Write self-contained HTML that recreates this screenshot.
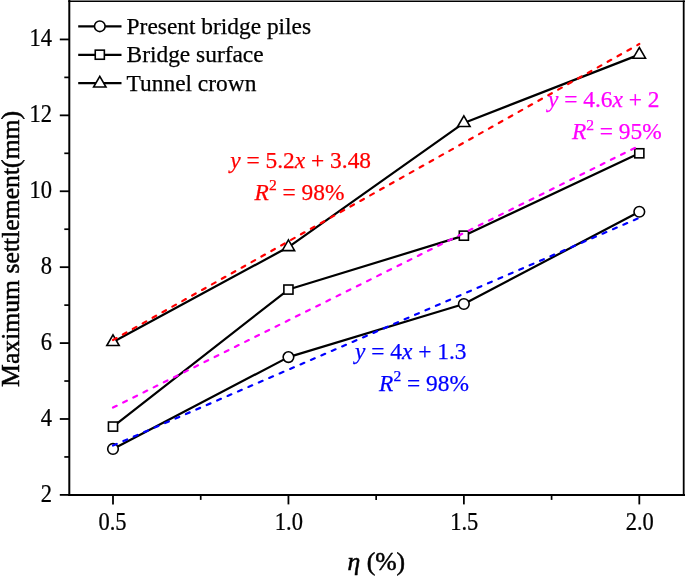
<!DOCTYPE html>
<html><head><meta charset="utf-8"><title>Maximum settlement vs eta</title>
<style>
html,body{margin:0;padding:0;background:#fff;}
body{width:685px;height:576px;overflow:hidden;}
svg{display:block;will-change:transform;}
text{font-family:"Liberation Serif",serif;font-size:23.4px;fill:#000;stroke:#000;stroke-width:0.25px;}
.t{font-size:25.7px;stroke-width:0.5px;}
.k{font-size:24.2px;}
.s{font-size:15.6px;}
.i{font-style:italic;}
</style></head><body>
<svg width="685" height="576" viewBox="0 0 685 576">
<rect width="685" height="576" fill="#fff"/>
<g stroke="#000" stroke-width="2" fill="none" stroke-linecap="butt">
<line x1="69.3" y1="0" x2="69.3" y2="495.9"/>
<line x1="68.3" y1="494.9" x2="685" y2="494.9"/>
<line x1="68.3" y1="1.22" x2="685" y2="1.22" stroke-width="1.65"/>
<line x1="683.7" y1="0.4" x2="683.7" y2="495.9" stroke-width="1.8"/>
<line x1="59.80" y1="494.90" x2="69.30" y2="494.90" stroke-width="1.8"/>
<line x1="64.30" y1="456.94" x2="69.30" y2="456.94" stroke-width="1.7"/>
<line x1="59.80" y1="418.99" x2="69.30" y2="418.99" stroke-width="1.8"/>
<line x1="64.30" y1="381.03" x2="69.30" y2="381.03" stroke-width="1.7"/>
<line x1="59.80" y1="343.08" x2="69.30" y2="343.08" stroke-width="1.8"/>
<line x1="64.30" y1="305.12" x2="69.30" y2="305.12" stroke-width="1.7"/>
<line x1="59.80" y1="267.17" x2="69.30" y2="267.17" stroke-width="1.8"/>
<line x1="64.30" y1="229.21" x2="69.30" y2="229.21" stroke-width="1.7"/>
<line x1="59.80" y1="191.26" x2="69.30" y2="191.26" stroke-width="1.8"/>
<line x1="64.30" y1="153.31" x2="69.30" y2="153.31" stroke-width="1.7"/>
<line x1="59.80" y1="115.35" x2="69.30" y2="115.35" stroke-width="1.8"/>
<line x1="64.30" y1="77.39" x2="69.30" y2="77.39" stroke-width="1.7"/>
<line x1="59.80" y1="39.44" x2="69.30" y2="39.44" stroke-width="1.8"/>
<line x1="113.00" y1="494.90" x2="113.00" y2="504.40" stroke-width="1.8"/>
<line x1="200.72" y1="494.90" x2="200.72" y2="499.90" stroke-width="1.7"/>
<line x1="288.44" y1="494.90" x2="288.44" y2="504.40" stroke-width="1.8"/>
<line x1="376.15" y1="494.90" x2="376.15" y2="499.90" stroke-width="1.7"/>
<line x1="463.87" y1="494.90" x2="463.87" y2="504.40" stroke-width="1.8"/>
<line x1="551.59" y1="494.90" x2="551.59" y2="499.90" stroke-width="1.7"/>
<line x1="639.31" y1="494.90" x2="639.31" y2="504.40" stroke-width="1.8"/>
</g>
<g stroke="#000" stroke-width="2.2" fill="none" stroke-linejoin="round">
<polyline points="113.00,448.97 288.44,357.12 463.87,303.99 639.31,211.76"/>
<polyline points="113.00,426.58 288.44,289.56 463.87,235.67 639.31,153.31"/>
<polyline points="113.00,341.94 288.44,247.05 463.87,122.94 639.31,54.62"/>
<line x1="78.2" y1="26.4" x2="121.5" y2="26.4"/>
<line x1="78.2" y1="54.8" x2="121.5" y2="54.8"/>
<line x1="78.2" y1="83.2" x2="121.5" y2="83.2"/>
</g>
<g stroke="#000" stroke-width="1.6" fill="#fff" stroke-linejoin="miter">
<circle cx="113.00" cy="448.97" r="5.3"/>
<circle cx="288.44" cy="357.12" r="5.3"/>
<circle cx="463.87" cy="303.99" r="5.3"/>
<circle cx="639.31" cy="211.76" r="5.3"/>
<rect x="108.45" y="422.03" width="9.1" height="9.1"/>
<rect x="283.88" y="285.01" width="9.1" height="9.1"/>
<rect x="459.32" y="231.12" width="9.1" height="9.1"/>
<rect x="634.76" y="148.75" width="9.1" height="9.1"/>
<polygon points="113.00,334.81 119.20,345.51 106.80,345.51"/>
<polygon points="288.44,239.92 294.63,250.62 282.24,250.62"/>
<polygon points="463.87,115.81 470.07,126.51 457.67,126.51"/>
<polygon points="639.31,47.49 645.51,58.19 633.11,58.19"/>
<circle cx="99.80" cy="26.30" r="5.3"/>
<rect x="95.25" y="50.15" width="9.1" height="9.1"/>
<polygon points="99.80,76.37 106.00,87.07 93.60,87.07"/>
</g>
<g stroke-width="2.2" fill="none" stroke-linecap="round" stroke-dasharray="4.1 7.25">
<line stroke="#ff0000" x1="113.00" y1="340.04" x2="639.31" y2="43.99"/>
<line stroke="#ff00ff" x1="113.00" y1="407.60" x2="639.31" y2="145.71"/>
<line stroke="#0000ff" x1="113.00" y1="445.56" x2="639.31" y2="217.83"/>
</g>
<text class="k" transform="translate(52.0,501.90) scale(0.93,1)" text-anchor="end">2</text>
<text class="k" transform="translate(52.0,425.99) scale(0.93,1)" text-anchor="end">4</text>
<text class="k" transform="translate(52.0,350.08) scale(0.93,1)" text-anchor="end">6</text>
<text class="k" transform="translate(52.0,274.17) scale(0.93,1)" text-anchor="end">8</text>
<text class="k" transform="translate(52.0,198.26) scale(0.93,1)" text-anchor="end">10</text>
<text class="k" transform="translate(52.0,122.35) scale(0.93,1)" text-anchor="end">12</text>
<text class="k" transform="translate(52.0,46.44) scale(0.93,1)" text-anchor="end">14</text>
<text class="k" transform="translate(112.50,529.5) scale(0.93,1)" text-anchor="middle">0.5</text>
<text class="k" transform="translate(288.83,529.5) scale(0.93,1)" text-anchor="middle">1.0</text>
<text class="k" transform="translate(464.27,529.5) scale(0.93,1)" text-anchor="middle">1.5</text>
<text class="k" transform="translate(639.71,529.5) scale(0.93,1)" text-anchor="middle">2.0</text>
<text x="126.6" y="33.5">Present bridge piles</text>
<text x="126.6" y="62.3">Bridge surface</text>
<text x="126.6" y="90.8">Tunnel crown</text>
<text x="230.3" y="167.8" style="fill:#ff0000;stroke:#ff0000"><tspan class="i">y</tspan> = 5.2<tspan class="i">x</tspan> + 3.48</text>
<text x="254.6" y="199.6" style="fill:#ff0000;stroke:#ff0000"><tspan class="i">R</tspan><tspan class="s" dy="-9.4">2</tspan><tspan dy="9.4"> = 98%</tspan></text>
<text x="548" y="107.4" style="fill:#ff00ff;stroke:#ff00ff"><tspan class="i">y</tspan> = 4.6<tspan class="i">x</tspan> + 2</text>
<text x="571.9" y="139.4" style="fill:#ff00ff;stroke:#ff00ff"><tspan class="i">R</tspan><tspan class="s" dy="-9.4">2</tspan><tspan dy="9.4"> = 95%</tspan></text>
<text x="355" y="358.8" style="fill:#0000ff;stroke:#0000ff"><tspan class="i">y</tspan> = 4<tspan class="i">x</tspan> + 1.3</text>
<text x="379.1" y="390.7" style="fill:#0000ff;stroke:#0000ff"><tspan class="i">R</tspan><tspan class="s" dy="-9.4">2</tspan><tspan dy="9.4"> = 98%</tspan></text>
<text class="t" x="376.3" y="570" text-anchor="middle"><tspan class="i">η</tspan> (%)</text>
<text class="t" transform="translate(18.9,248.9) rotate(-90)" text-anchor="middle">Maximum settlement(mm)</text>
</svg></body></html>
